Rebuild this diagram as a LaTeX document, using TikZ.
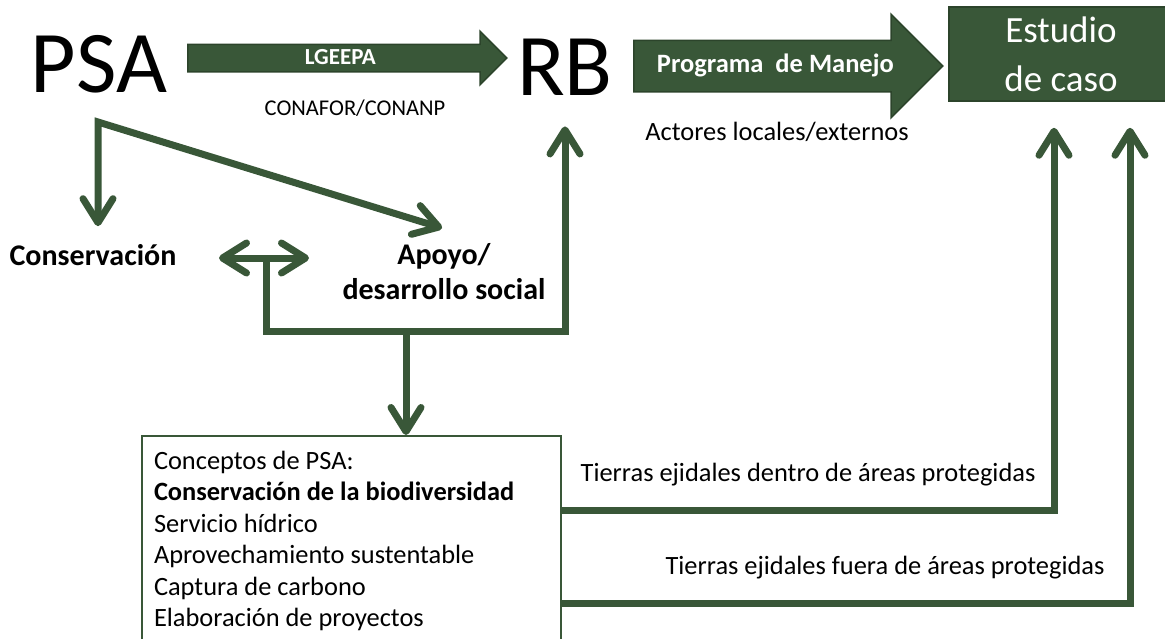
\documentclass[tikz,border=0pt]{standalone}
\usepackage{fontspec}
\setmainfont{Carlito}
\usetikzlibrary{shapes.arrows, arrows.meta}

\definecolor{psagreen}{RGB}{57,87,56}
\definecolor{psaedge}{RGB}{44,68,43}

\begin{document}
\begin{tikzpicture}[x=1pt, y=-1pt,
    bigtext/.style={font=\fontsize{88}{88}\selectfont, inner sep=0pt},
    plaintext/.style={font=\fontsize{26.4}{31.4}\selectfont, inner sep=0pt},
    boldtext/.style={font=\bfseries\fontsize{30}{35}\selectfont, inner sep=0pt},
    blockarrow/.style={single arrow, fill=psagreen, draw=psaedge, line width=1.5pt,
        text=white, anchor=tail},
    greenbox/.style={rectangle, fill=psagreen, draw=psaedge, line width=1.5pt,
        text=white, align=center},
    listbox/.style={rectangle, draw=psagreen, line width=2pt, fill=white, align=left,
        inner xsep=12pt, minimum height=210pt,
        font=\fontsize{26.4}{31.4}\selectfont},
    conn/.style={draw=psagreen, line width=7pt,
        -{Straight Barb[length=24pt, width=30pt, round]}},
    both/.style={{Straight Barb[length=24pt, width=30pt, round]}-{Straight Barb[length=24pt, width=30pt, round]}}]

    \useasboundingbox (0,0) rectangle (1165,638);

    % PSA and RB
    \node[bigtext] (psa) at (99,64) {PSA};
    \node[bigtext] (rb) at (565,67) {RB};

    % LGEEPA
    \node[blockarrow, minimum height=319pt, font=\bfseries\fontsize{23}{23}\selectfont,
        text height=15pt, text depth=3pt, inner ysep=4pt,
        single arrow head extend=13pt] (lgeepa) at (187,58) {LGEEPA};
    \node[plaintext, font=\fontsize{22.5}{27}\selectfont] (conafor) at (355,108) {CONAFOR/CONANP};

    % Programa de Manejo
    \node[blockarrow, minimum height=309pt, font=\bfseries\fontsize{26.5}{26.5}\selectfont,
        text height=19pt, text depth=6pt, inner ysep=12.5pt,
        single arrow head extend=26pt] (manejo) at (633,66) {Programa~ de Manejo};
    \node[plaintext] (actores) at (777,132) {Actores locales/externos};

    % Estudio de caso
    \node[greenbox, minimum width=224pt, minimum height=94pt,
        font=\fontsize{37}{49}\selectfont] (estudio) at (1061,54) {Estudio\\de caso};

    % PSA branches
    \coordinate (split) at (98,122);
    \node[boldtext] (cons) at (93,255) {Conservación};
    \node[boldtext, align=center] (apoyo) at (444,272) {Apoyo/\\desarrollo social};
    \draw[conn, both, shorten <=2pt, shorten >=18pt] ([yshift=15pt]apoyo.north) -- (split) -- (split |- cons.north);

    % Double arrow and link to RB
    \coordinate (dl) at (219,258);
    \coordinate (dr) at (309,258);
    \coordinate (dmid) at (266,258);
    \coordinate (hub) at (406,331);
    \draw[conn, both] (dl) -- (dr);
    \draw[conn, shorten >=31pt] (dmid) |- (hub) -| (rb.south);

    % Conceptos de PSA
    \node[listbox, anchor=north west] (conceptos) at (141,435) {\makebox[395pt][l]{Conceptos de PSA:}\\
        \textbf{Conservación de la biodiversidad}\\
        Servicio hídrico\\
        Aprovechamiento sustentable\\
        Captura de carbono\\
        Elaboración de proyectos};
    \draw[conn] (hub) -- (hub |- conceptos.north);

    % Tierras ejidales
    \node[plaintext] (dentro) at (808,475) {Tierras ejidales dentro de áreas protegidas};
    \node[plaintext] (fuera) at (885,568) {Tierras ejidales fuera de áreas protegidas};
    \draw[conn, shorten >=26pt] ([yshift=31pt]conceptos.east) -| ([xshift=-7pt]estudio.south);
    \draw[conn, shorten >=26pt] ([yshift=-62pt]conceptos.east) -| ([xshift=69pt]estudio.south);

\end{tikzpicture}
\end{document}
